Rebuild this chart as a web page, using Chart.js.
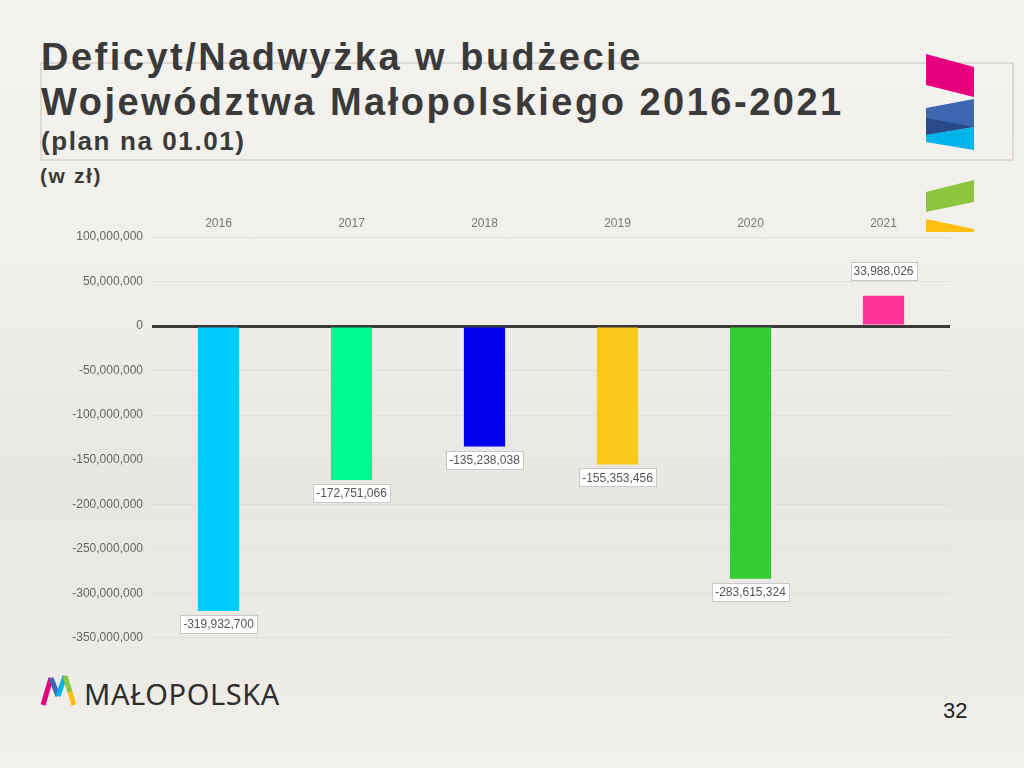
<!DOCTYPE html>
<html lang="pl">
<head>
<meta charset="utf-8">
<script src="https://cdn.jsdelivr.net/npm/chart.js@4/dist/chart.umd.min.js"></script>
<style>
    html, body { margin: 0; padding: 0; }
    body {
        width: 1024px; height: 768px; overflow: hidden; position: relative;
        font-family: "Liberation Sans", Arial, sans-serif;
        background: linear-gradient(180deg, #f5f3ef 0%, #f1efea 35%, #e9e7e2 62%, #ebe9e4 80%, #f2f0ec 100%);
    }
    .frame { position: absolute; left: 40px; top: 62px; width: 970px; height: 95px; border: 2px solid #dddad5; }
    .title { position: absolute; left: 41px; top: 35px; font-size: 38px; line-height: 45px; font-weight: bold; color: #3a3a3a; white-space: nowrap; letter-spacing: 2.5px; }
    .sub { position: absolute; left: 41px; top: 126px; font-size: 26px; line-height: 30px; font-weight: bold; color: #3a3a3a; letter-spacing: 1.6px; }
    .unit { position: absolute; left: 40px; top: 164px; font-size: 21px; line-height: 24px; font-weight: bold; color: #3a3a3a; letter-spacing: 1.6px; }
    .chart-box { position: absolute; left: 0; top: 201px; width: 1024px; height: 453px; }
    .deco { position: absolute; left: 0; top: 0; }
    .brand { position: absolute; left: 84px; top: 676px; font-family: "Noto Sans", sans-serif; font-size: 29px; line-height: 36px; color: #2e2e2e; letter-spacing: 0.6px; }
    .page { position: absolute; left: 943px; top: 698px; font-size: 22px; line-height: 26px; color: #222; }
</style>
</head>
<body>
<div class="frame"></div>
<svg class="deco" width="1024" height="768">
    <polygon points="926,54 974,67 974,97 926,85" fill="#e6007e"/>
    <polygon points="926,108 974,99 974,127 926,135" fill="#3d67b1"/>
    <polygon points="926,118 974,127 926,135" fill="#2b4a88"/>
    <polygon points="926,135 974,127 974,150 926,142" fill="#00b4ea"/>
    <polygon points="926,192 974,180 974,202 926,212" fill="#8dc63f"/>
    <polygon points="926,219 974,229 974,232 926,232" fill="#fdc010"/>
    <polyline points="43,705 51,678" stroke="#e6007e" stroke-width="5" fill="none"/>
    <polyline points="51,678 58,696" stroke="#3d67b1" stroke-width="5" fill="none"/>
    <polyline points="58,696 65,676" stroke="#00b4ea" stroke-width="5" fill="none"/>
    <polyline points="65,676 70,692" stroke="#8dc63f" stroke-width="5" fill="none"/>
    <polyline points="70,692 74,705" stroke="#fdc010" stroke-width="5" fill="none"/>
</svg>
<div class="title">Deficyt/Nadwyżka w budżecie<br>Województwa Małopolskiego 2016-2021</div>
<div class="sub">(plan na 01.01)</div>
<div class="unit">(w zł)</div>
<div class="chart-box"><canvas id="chart"></canvas></div>
<div class="brand">MAŁOPOLSKA</div>
<div class="page">32</div>
<script>
const years = ['2016', '2017', '2018', '2019', '2020', '2021'];
const balance = [-319932700, -172751066, -135238038, -155353456, -283615324, 33988026];
const barColors = ['#00ccff', '#00fa92', '#0000ee', '#fbc81e', '#33cc33', '#ff3399'];
const yMin = -350000000;
const yMax = 100000000;
const yStep = 50000000;

const fmt = v => v.toLocaleString('en-US');

// value boxes under/over each bar
const valueLabels = {
    id: 'valueLabels',
    afterDatasetsDraw(chart) {
        const ctx = chart.ctx;
        const meta = chart.getDatasetMeta(0);
        ctx.save();
        ctx.font = '12px "Liberation Sans", Arial, sans-serif';
        ctx.textAlign = 'center';
        ctx.textBaseline = 'middle';
        meta.data.forEach((bar, i) => {
            const v = balance[i];
            const text = fmt(v);
            const w = Math.round(ctx.measureText(text).width + 6);
            const h = 18;
            const cy = v < 0 ? bar.y + 13 : bar.y - 25;
            const left = Math.round(bar.x - w / 2) + 0.5;
            const top = Math.round(cy - h / 2) + 0.5;
            ctx.fillStyle = '#ffffff';
            ctx.fillRect(left, top, w, h);
            ctx.strokeStyle = '#c8c8c8';
            ctx.lineWidth = 1;
            ctx.strokeRect(left, top, w, h);
            ctx.fillStyle = '#555555';
            ctx.fillText(text, bar.x, cy + 1);
        });
        ctx.restore();
    }
};

new Chart(document.getElementById('chart').getContext('2d'), {
    type: 'bar',
    data: {
        labels: years,
        datasets: [{
            data: balance,
            backgroundColor: barColors,
            borderWidth: 0,
            barPercentage: 0.31,
            categoryPercentage: 1
        }]
    },
    options: {
        responsive: true,
        maintainAspectRatio: false,
        animation: false,
        layout: { padding: { left: 0, right: 74, top: 0, bottom: 10 } },
        plugins: { legend: { display: false }, tooltip: { enabled: false } },
        scales: {
            x: {
                position: 'top',
                grid: { display: false, drawTicks: false },
                border: { display: false },
                ticks: { color: '#777', padding: 6, font: { size: 12, family: '"Liberation Sans", Arial, sans-serif' } },
                afterFit: s => { s.height = 36; }
            },
            y: {
                min: yMin,
                max: yMax,
                grid: {
                    drawTicks: false,
                    color: c => c.tick.value === 0 ? '#3a3a3a' : '#e2dfda',
                    lineWidth: c => c.tick.value === 0 ? 3 : 1
                },
                border: { display: false },
                ticks: {
                    stepSize: yStep,
                    color: '#666',
                    padding: 9,
                    font: { size: 12, family: '"Liberation Sans", Arial, sans-serif' },
                    callback: v => fmt(v)
                },
                afterFit: s => { s.width = 152; }
            }
        }
    },
    plugins: [valueLabels]
});
</script>
</body>
</html>
